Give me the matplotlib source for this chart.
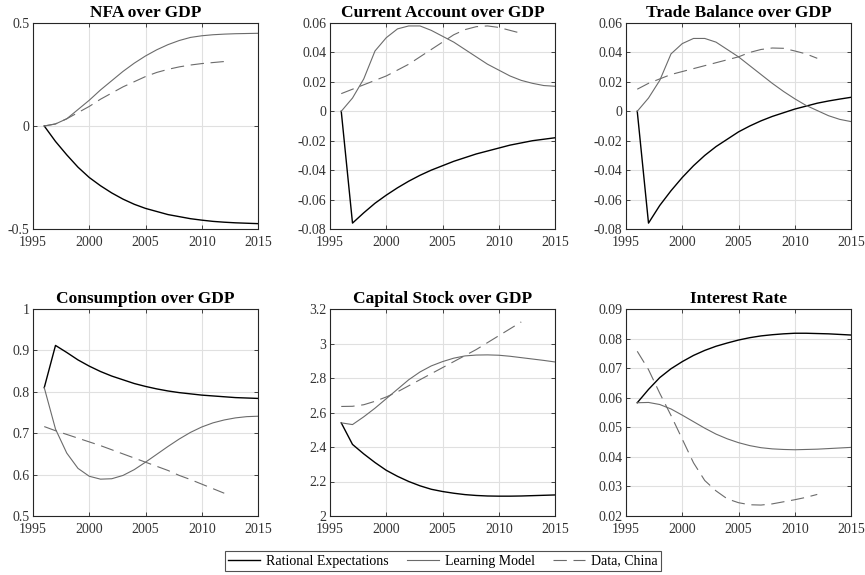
import matplotlib
matplotlib.use("Agg")
import matplotlib.pyplot as plt
import numpy as np

years_model = list(range(1996, 2016))
years_data = list(range(1996, 2013))

nfa_re = [0, -0.075, -0.14, -0.20, -0.25, -0.29, -0.325, -0.355, -0.38, -0.40, -0.415, -0.43, -0.44, -0.45, -0.457, -0.463, -0.467, -0.47, -0.472, -0.474]
nfa_lm = [0, 0.01, 0.035, 0.08, 0.125, 0.175, 0.22, 0.265, 0.305, 0.34, 0.37, 0.395, 0.415, 0.43, 0.438, 0.443, 0.446, 0.448, 0.449, 0.45]
nfa_data = [0, 0.01, 0.035, 0.065, 0.095, 0.13, 0.16, 0.19, 0.215, 0.24, 0.26, 0.275, 0.287, 0.296, 0.303, 0.308, 0.313]

ca_re = [0, -0.076, -0.069, -0.0625, -0.057, -0.052, -0.0475, -0.0435, -0.040, -0.037, -0.034, -0.0315, -0.029, -0.027, -0.025, -0.023, -0.0215, -0.020, -0.019, -0.018]
ca_lm = [0, 0.009, 0.022, 0.041, 0.050, 0.056, 0.058, 0.058, 0.055, 0.051, 0.047, 0.042, 0.037, 0.032, 0.028, 0.024, 0.021, 0.019, 0.0175, 0.017]
ca_data = [0.012, 0.015, 0.018, 0.021, 0.024, 0.028, 0.032, 0.037, 0.042, 0.047, 0.052, 0.0555, 0.0575, 0.058, 0.057, 0.055, 0.053]

tb_re = [0, -0.076, -0.064, -0.054, -0.045, -0.037, -0.030, -0.024, -0.019, -0.014, -0.010, -0.0065, -0.0035, -0.001, 0.0015, 0.0035, 0.0055, 0.007, 0.0083, 0.0095]
tb_lm = [0, 0.009, 0.021, 0.039, 0.046, 0.0495, 0.0495, 0.047, 0.042, 0.037, 0.031, 0.025, 0.019, 0.0135, 0.0085, 0.004, 0.0005, -0.003, -0.0055, -0.007]
tb_data = [0.015, 0.019, 0.022, 0.025, 0.027, 0.029, 0.031, 0.033, 0.035, 0.037, 0.040, 0.042, 0.043, 0.0428, 0.041, 0.039, 0.036]

c_re = [0.81, 0.912, 0.895, 0.877, 0.862, 0.849, 0.838, 0.829, 0.820, 0.813, 0.807, 0.802, 0.798, 0.795, 0.792, 0.790, 0.788, 0.786, 0.785, 0.784]
c_lm = [0.81, 0.71, 0.652, 0.615, 0.596, 0.589, 0.59, 0.598, 0.612, 0.63, 0.649, 0.668, 0.686, 0.702, 0.715, 0.725, 0.732, 0.737, 0.740, 0.741]
c_data = [0.716, 0.706, 0.697, 0.688, 0.679, 0.670, 0.660, 0.650, 0.640, 0.630, 0.620, 0.610, 0.598, 0.588, 0.577, 0.566, 0.555]

k_re = [2.54, 2.415, 2.36, 2.31, 2.265, 2.23, 2.20, 2.175, 2.155, 2.142, 2.132, 2.124, 2.119, 2.116, 2.115, 2.115, 2.116, 2.118, 2.12, 2.122]
k_lm = [2.54, 2.53, 2.575, 2.625, 2.68, 2.735, 2.79, 2.835, 2.87, 2.895, 2.915, 2.928, 2.933, 2.934, 2.932, 2.926, 2.918, 2.91, 2.902, 2.893]
k_data = [2.635, 2.636, 2.645, 2.665, 2.69, 2.72, 2.755, 2.79, 2.825, 2.86, 2.895, 2.93, 2.965, 3.005, 3.045, 3.085, 3.125]

r_re = [0.0583, 0.0628, 0.0668, 0.0698, 0.0722, 0.0743, 0.0760, 0.0774, 0.0785, 0.0795, 0.0803, 0.0809, 0.0813, 0.0816, 0.0818, 0.0818, 0.0817, 0.0816, 0.0814, 0.0812]
r_lm = [0.0583, 0.0584, 0.0577, 0.0562, 0.0541, 0.0519, 0.0497, 0.0477, 0.0461, 0.0448, 0.0438, 0.0431, 0.0427, 0.0425, 0.0424, 0.0425, 0.0426, 0.0428, 0.043, 0.0432]
r_data = [0.0757, 0.0695, 0.0615, 0.054, 0.046, 0.038, 0.032, 0.0285, 0.0258, 0.0245, 0.0238, 0.0237, 0.0241, 0.0248, 0.0255, 0.0263, 0.0273]

titles = ["NFA over GDP", "Current Account over GDP", "Trade Balance over GDP",
          "Consumption over GDP", "Capital Stock over GDP", "Interest Rate"]
series = [(nfa_re, nfa_lm, nfa_data), (ca_re, ca_lm, ca_data), (tb_re, tb_lm, tb_data),
          (c_re, c_lm, c_data), (k_re, k_lm, k_data), (r_re, r_lm, r_data)]
ylims = [(-0.5, 0.5), (-0.08, 0.06), (-0.08, 0.06), (0.5, 1.0), (2.0, 3.2), (0.02, 0.09)]
yticks = [[-0.5, 0, 0.5],
          [-0.08, -0.06, -0.04, -0.02, 0, 0.02, 0.04, 0.06],
          [-0.08, -0.06, -0.04, -0.02, 0, 0.02, 0.04, 0.06],
          [0.5, 0.6, 0.7, 0.8, 0.9, 1.0],
          [2.0, 2.2, 2.4, 2.6, 2.8, 3.0, 3.2],
          [0.02, 0.03, 0.04, 0.05, 0.06, 0.07, 0.08, 0.09]]
ytlabels = [["-0.5", "0", "0.5"],
            ["-0.08", "-0.06", "-0.04", "-0.02", "0", "0.02", "0.04", "0.06"],
            ["-0.08", "-0.06", "-0.04", "-0.02", "0", "0.02", "0.04", "0.06"],
            ["0.5", "0.6", "0.7", "0.8", "0.9", "1"],
            ["2", "2.2", "2.4", "2.6", "2.8", "3", "3.2"],
            ["0.02", "0.03", "0.04", "0.05", "0.06", "0.07", "0.08", "0.09"]]
xticks = [1995, 2000, 2005, 2010, 2015]
legend_labels = ["Rational Expectations", "Learning Model", "Data, China"]

plt.rcParams['font.family'] = ['Liberation Serif', 'DejaVu Serif']
W, H = 865, 575
fig = plt.figure(figsize=(W / 100, H / 100), dpi=100)

# axes boxes in pixels: (left, top, right, bottom)
boxes = [(33, 23, 258, 229), (330, 23, 555, 229), (626, 23, 851, 229),
         (33, 309, 258, 516), (330, 309, 555, 516), (626, 309, 851, 516)]

tc = (0.15, 0.15, 0.15)
lab_c = (0.2, 0.2, 0.2)
lines = None
for i, (l, t, r, b) in enumerate(boxes):
    ax = fig.add_axes([l / W, 1 - b / H, (r - l) / W, (b - t) / H])
    re_, lm_, dt_ = series[i]
    h1, = ax.plot(years_model, re_, color='black', lw=1.0)
    h2, = ax.plot(years_model, lm_, color=(0.42, 0.42, 0.42), lw=0.8)
    h3, = ax.plot(years_data, dt_, color=(0.42, 0.42, 0.42), lw=0.8, ls=(0, (12, 6)))
    lines = (h1, h2, h3)
    ax.set_xlim(1995, 2015)
    ax.set_ylim(*ylims[i])
    ax.set_xticks(xticks)
    ax.set_xticklabels([str(x) for x in xticks])
    ax.set_yticks(yticks[i])
    ax.set_yticklabels(ytlabels[i])
    ax.grid(True, color=(0.88, 0.88, 0.88), lw=0.8)
    ax.set_axisbelow(True)
    ax.tick_params(direction='in', length=3, width=0.6, colors=tc, labelcolor=lab_c,
                   labelsize=10, top=True, right=True)
    ax.tick_params(axis='x', pad=5)
    ax.tick_params(axis='y', pad=2.5)
    for s in ax.spines.values():
        s.set_color(tc)
        s.set_linewidth(0.8)
    ax.set_title(titles[i], fontsize=12.5, fontweight='bold', pad=4.5)

leg = fig.legend(lines, legend_labels,
                 loc='center', bbox_to_anchor=(443 / W, 1 - 561 / H),
                 ncol=3, frameon=True, fancybox=False, edgecolor=tc, fontsize=10,
                 handlelength=2.3, handletextpad=0.45, columnspacing=1.3,
                 borderpad=0.25, borderaxespad=0)
leg.get_frame().set_linewidth(0.8)

fig.savefig("out.png", dpi=100)
